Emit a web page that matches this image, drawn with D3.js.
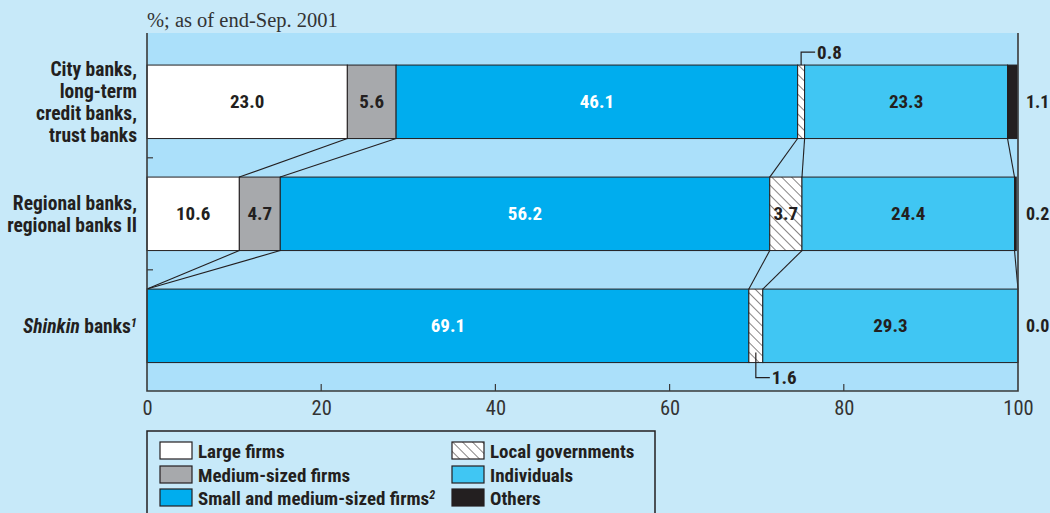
<!DOCTYPE html>
<html>
<head>
<meta charset="utf-8">
<script src="https://cdn.jsdelivr.net/npm/d3@7"></script>
<style>
  html, body { margin: 0; padding: 0; background: #c7e9f9; }
  svg { display: block; }
  .cond { font-family: "Liberation Sans Narrow", "Arial Narrow", "Roboto Condensed", sans-serif; }
</style>
</head>
<body>
<svg id="chart" width="1050" height="513"></svg>
<script>
// Loan composition by borrower type, % shares per bank group
const bankGroups = ["city", "regional", "shinkin"];
const categories = ["Large firms", "Medium-sized firms", "Small and medium-sized firms", "Local governments", "Individuals", "Others"];
const largeFirms = [23.0, 10.6, 0.0];
const mediumFirms = [5.6, 4.7, 0.0];
const smallMediumFirms = [46.1, 56.2, 69.1];
const localGovernments = [0.8, 3.7, 1.6];
const individuals = [23.3, 24.4, 29.3];
const others = [1.1, 0.2, 0.0];
const xTicks = [0, 20, 40, 60, 80, 100];

const series = [largeFirms, mediumFirms, smallMediumFirms, localGovernments, individuals, others];

const W = 1050, H = 513;
const margin = { top: 33, right: 32, bottom: 122, left: 147 };
const svg = d3.select("#chart");
const ink = "#231f20";

const defs = svg.append("defs");
const hatch = defs.append("pattern")
  .attr("id", "hatch").attr("patternUnits", "userSpaceOnUse")
  .attr("width", 7).attr("height", 7)
  .attr("patternTransform", "rotate(-45)");
hatch.append("rect").attr("width", 7).attr("height", 7).attr("fill", "#ffffff");
hatch.append("line").attr("x1", 0).attr("y1", 0).attr("x2", 0).attr("y2", 7)
  .attr("stroke", ink).attr("stroke-width", 1.1);

const fills = ["#ffffff", "#a7a9ac", "#00adee", "url(#hatch)", "#40c6f3", ink];

const x = d3.scaleLinear().domain([0, 100]).range([margin.left, W - margin.right]);
const y = d3.scaleBand().domain(bankGroups).range([margin.top, H - margin.bottom])
  .paddingInner(0.344).paddingOuter(0.27).align(0.53);

// plot background
svg.append("rect")
  .attr("x", x(0)).attr("y", margin.top)
  .attr("width", x(100) - x(0)).attr("height", H - margin.bottom - margin.top)
  .attr("fill", "#abe0fa");

// stacked values
const stacked = bankGroups.map((g, i) => {
  let acc = 0;
  return series.map((s, k) => {
    const v = s[i];
    const seg = { group: g, row: i, cat: k, value: v, x0: acc, x1: acc + v };
    acc += v;
    return seg;
  });
});

// bars
const barG = svg.append("g");
stacked.forEach(row => {
  barG.selectAll(null).data(row.filter(d => d.value > 0)).enter().append("rect")
    .attr("x", d => x(d.x0)).attr("y", d => y(d.group))
    .attr("width", d => x(d.x1) - x(d.x0)).attr("height", y.bandwidth())
    .attr("fill", d => fills[d.cat])
    .attr("stroke", ink).attr("stroke-width", 1);
});

// connectors between adjacent bars at each segment boundary
const conn = svg.append("g").attr("stroke", ink).attr("stroke-width", 1.1).attr("fill", "none");
for (let i = 0; i < bankGroups.length - 1; i++) {
  for (let k = 1; k < categories.length; k++) {
    const a = stacked[i][k].x0, b = stacked[i + 1][k].x0;
    conn.append("line")
      .attr("x1", x(a)).attr("y1", y(bankGroups[i]) + y.bandwidth())
      .attr("x2", x(b)).attr("y2", y(bankGroups[i + 1]));
  }
}

// axes frame
const axisG = svg.append("g").attr("stroke", "#3a3a3a").attr("stroke-width", 1.6).attr("fill", "none");
axisG.append("path").attr("d", `M${x(0)},${margin.top}V${H - margin.bottom}H${x(100)}V${margin.top}`);

const xAxis = svg.append("g")
  .attr("transform", `translate(0,${H - margin.bottom})`)
  .call(d3.axisBottom(x).tickValues(xTicks).tickSize(0).tickPadding(9).tickFormat(d3.format("d")));
xAxis.select(".domain").remove();
xAxis.selectAll("text").attr("class", "cond").style("font-size", "20.5px").attr("fill", "#333");
svg.append("g").selectAll("line").data(xTicks.slice(1, -1)).enter().append("line")
  .attr("x1", d => x(d)).attr("x2", d => x(d))
  .attr("y1", H - margin.bottom).attr("y2", H - margin.bottom - 7)
  .attr("stroke", "#3a3a3a").attr("stroke-width", 1.2);

// left category separators
const sepY = bankGroups.slice(1).map((g, i) => (y(bankGroups[i]) + y.bandwidth() + y(g)) / 2);
svg.append("g").selectAll("line").data(sepY).enter().append("line")
  .attr("x1", x(0)).attr("x2", x(0) + 6).attr("y1", d => d).attr("y2", d => d)
  .attr("stroke", "#3a3a3a").attr("stroke-width", 1.2);

// title
svg.append("text").attr("x", x(0)).attr("y", 27)
  .style("font-family", "'Liberation Serif', 'Times New Roman', serif").style("font-size", "20.5px")
  .attr("fill", "#333").text("%; as of end-Sep. 2001");

// category labels
const rowLabels = [
  ["City banks,", "long-term", "credit banks,", "trust banks"],
  ["Regional banks,", "regional banks II"],
  null
];
const labG = svg.append("g").attr("class", "cond").style("font-size", "19.5px").style("font-weight", "bold")
  .attr("fill", ink).attr("text-anchor", "end");
bankGroups.forEach((g, i) => {
  const cy = y(g) + y.bandwidth() / 2;
  const lines = rowLabels[i];
  if (lines) {
    const lh = 22;
    lines.forEach((t, j) => {
      labG.append("text").attr("x", 137).attr("y", cy + (j - (lines.length - 1) / 2) * lh)
        .attr("dy", "0.35em").text(t);
    });
  } else {
    const t = labG.append("text").attr("x", 137).attr("y", cy).attr("dy", "0.35em");
    t.append("tspan").style("font-style", "italic").text("Shinkin");
    t.append("tspan").text(" banks");
    t.append("tspan").attr("dy", "-0.45em").style("font-size", "12.5px").style("font-style", "italic").text("1");
  }
});

// value labels
const valG = svg.append("g").attr("class", "cond").style("font-size", "19px").style("font-weight", "bold");
const fmt = d3.format(".1f");
stacked.forEach((row, i) => {
  const cy = y(bankGroups[i]) + y.bandwidth() / 2;
  row.forEach(d => {
    if (d.cat === 5) {
      valG.append("text").attr("x", x(100) + 8).attr("y", cy).attr("dy", "0.35em")
        .style("font-size", "18px").attr("fill", ink).text(fmt(d.value));
      return;
    }
    if (d.value <= 0) return;
    const w = x(d.x1) - x(d.x0);
    if (w >= 26) {
      valG.append("text").attr("x", (x(d.x0) + x(d.x1)) / 2).attr("y", cy).attr("dy", "0.35em")
        .attr("text-anchor", "middle")
        .attr("fill", d.cat === 2 ? "#ffffff" : ink).text(fmt(d.value));
    } else {
      // callout for narrow segments: above on the first bar, below otherwise
      const mx = (x(d.x0) + x(d.x1)) / 2;
      const top = y(bankGroups[i]), bot = top + y.bandwidth();
      const ly = i === 0 ? top - 13 : bot + 15;
      const y0 = i === 0 ? top : bot - 10;
      valG.append("path").attr("d", `M${mx},${y0}V${ly}H${mx + 14}`)
        .attr("fill", "none").attr("stroke", ink).attr("stroke-width", 1.2);
      valG.append("text").attr("x", mx + 16).attr("y", ly).attr("dy", "0.35em")
        .attr("fill", ink).text(fmt(d.value));
    }
  });
});

// legend
const lg = svg.append("g").attr("class", "cond").style("font-size", "19px").style("font-weight", "bold");
lg.append("path").attr("d", `M${x(0)},${H + 2}V431H655V${H + 2}`)
  .attr("fill", "none").attr("stroke", ink).attr("stroke-width", 1.5);
const legendPos = [
  [160, 442], [160, 466], [160, 489],
  [452, 442], [452, 466], [452, 489]
];
categories.forEach((c, k) => {
  const [lx, ly] = legendPos[k];
  lg.append("rect").attr("x", lx).attr("y", ly).attr("width", 32).attr("height", 17)
    .attr("fill", fills[k]).attr("stroke", ink).attr("stroke-width", 1.2);
  const t = lg.append("text").attr("x", lx + 38).attr("y", ly + 9).attr("dy", "0.35em")
    .attr("fill", ink).text(c);
  if (k === 2) {
    t.append("tspan").attr("dy", "-0.5em").style("font-size", "12px").style("font-style", "italic").text("2");
  }
});
</script>
</body>
</html>
